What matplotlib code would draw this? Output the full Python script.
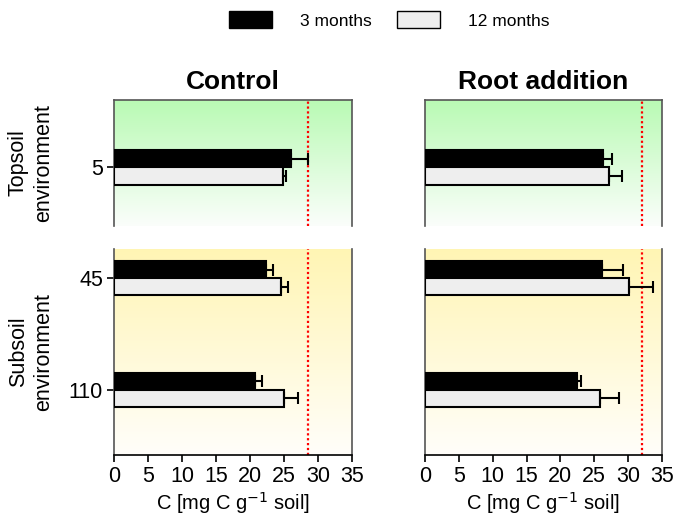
import numpy as np
import matplotlib
matplotlib.use("Agg")
import matplotlib.pyplot as plt
from matplotlib.colors import LinearSegmentedColormap
from matplotlib.patches import Patch

plt.rcParams['font.family'] = ['Liberation Sans', 'DejaVu Sans']

# ---- data ----
treatments = ["Control", "Root addition"]
top_depths = [5]
sub_depths = [45, 110]
series = ["3 months", "12 months"]

# Control
ctrl_top_3 = [26.1]
ctrl_top_3_err = [2.5]
ctrl_top_12 = [24.8]
ctrl_top_12_err = [0.5]
ctrl_sub_3 = [22.3, 20.8]
ctrl_sub_3_err = [1.1, 0.95]
ctrl_sub_12 = [24.6, 25.0]
ctrl_sub_12_err = [1.0, 2.1]
ctrl_ref = 28.6

# Root addition
root_top_3 = [26.3]
root_top_3_err = [1.3]
root_top_12 = [27.2]
root_top_12_err = [1.9]
root_sub_3 = [26.1, 22.4]
root_sub_3_err = [3.2, 0.6]
root_sub_12 = [30.1, 25.9]
root_sub_12_err = [3.5, 2.7]
root_ref = 32.1

xticks = [0, 5, 10, 15, 20, 25, 30, 35]

# ---- figure ----
W, H = 675, 516
fig = plt.figure(figsize=(W / 100, H / 100), dpi=100)

def frac(x0, y0, x1, y1):
    return [x0 / W, 1 - y1 / H, (x1 - x0) / W, (y1 - y0) / H]

green = LinearSegmentedColormap.from_list("g", ["#fbfefb", "#b9fab4"])
yellow = LinearSegmentedColormap.from_list("y", ["#fffefa", "#fff5b4"])

cols = [(114, 352), (425, 662)]
rows = [(100, 226), (249, 455)]

data = {
    0: dict(top=(ctrl_top_3, ctrl_top_3_err, ctrl_top_12, ctrl_top_12_err),
            sub=(ctrl_sub_3, ctrl_sub_3_err, ctrl_sub_12, ctrl_sub_12_err),
            ref=ctrl_ref),
    1: dict(top=(root_top_3, root_top_3_err, root_top_12, root_top_12_err),
            sub=(root_sub_3, root_sub_3_err, root_sub_12, root_sub_12_err),
            ref=root_ref),
}

bh = 10
spine_c = "#555555"
for ci, (x0, x1) in enumerate(cols):
    for ri, (y0, y1) in enumerate(rows):
        ax = fig.add_axes(frac(x0, y0, x1, y1))
        grad = np.linspace(0, 1, 256).reshape(-1, 1)
        cmap = green if ri == 0 else yellow
        ax.imshow(grad, cmap=cmap, aspect="auto", extent=[0, 1, 0, 1],
                  origin="lower", transform=ax.transAxes, zorder=0)
        if ri == 0:
            depths = top_depths
            v3, e3, v12, e12 = data[ci]["top"]
            ax.set_ylim(39, -34)
        else:
            depths = sub_depths
            v3, e3, v12, e12 = data[ci]["sub"]
            ax.set_ylim(148, 28)
        d = np.array(depths, dtype=float)
        ax.barh(d - bh / 2, v3, height=bh, color="black", edgecolor="black",
                lw=1.5, zorder=3)
        ax.barh(d + bh / 2, v12, height=bh, color="#eeeeee", edgecolor="black",
                lw=1.5, zorder=3)
        ax.errorbar(v3, d - bh / 2, xerr=[np.zeros(len(e3)), e3], fmt="none",
                    ecolor="black", elinewidth=1.5, capsize=4, capthick=1.5, zorder=4)
        ax.errorbar(v12, d + bh / 2, xerr=[np.zeros(len(e12)), e12], fmt="none",
                    ecolor="black", elinewidth=1.5, capsize=4, capthick=1.5, zorder=4)
        ax.axvline(data[ci]["ref"], color="red", ls=(0, (1, 1.2)), lw=1.6, zorder=2)
        ax.set_xlim(0, 35)
        for s in ax.spines.values():
            s.set_color(spine_c)
            s.set_linewidth(1.2)
        if ri == 0:
            ax.spines["bottom"].set_visible(False)
            ax.set_xticks([])
            ax.set_title(treatments[ci], fontsize=19, fontweight="bold", pad=8)
        else:
            ax.spines["top"].set_visible(False)
            ax.spines["bottom"].set_color("black")
            ax.set_xticks(xticks)
            ax.set_xlabel("C [mg C g$^{-1}$ soil]", fontsize=14.5, labelpad=2)
        if ci == 0:
            ax.set_yticks(depths)
            ax.set_yticklabels([str(v) for v in depths])
        else:
            ax.set_yticks([])
        ax.tick_params(axis="both", labelsize=15.5, length=5, width=1.2,
                       color="black", pad=3)

fig.text(31 / W, 1 - 163 / H, "Topsoil\nenvironment", rotation=90, ha="center",
         va="center", fontsize=15.5, linespacing=1.3)
fig.text(31 / W, 1 - 352 / H, "Subsoil\nenvironment", rotation=90, ha="center",
         va="center", fontsize=15.5, linespacing=1.3)

handles = [Patch(facecolor="black", edgecolor="black", lw=1.0),
           Patch(facecolor="#eeeeee", edgecolor="black", lw=1.0)]
fig.legend(handles, series, loc="center", bbox_to_anchor=(389 / W, 1 - 20 / H),
           ncol=2, frameon=False, fontsize=12.5, handlelength=2.5, handleheight=1.1,
           handletextpad=1.6, columnspacing=1.45)

fig.savefig("out.png", dpi=100)
